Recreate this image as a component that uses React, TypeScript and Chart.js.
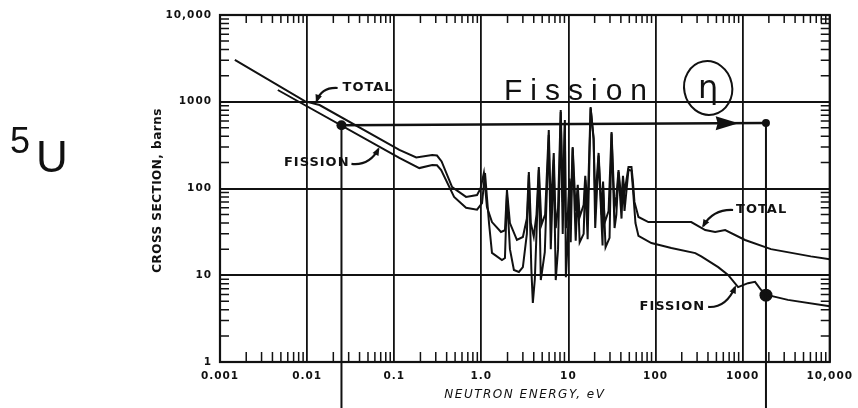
import React, { useEffect, useRef } from "react";
import { Chart, registerables } from "chart.js";

Chart.register(...registerables);

// ---- axes ----
const xTickValues = [0.001, 0.01, 0.1, 1, 10, 100, 1000, 10000];
const xTickLabels = ["0.001", "0.01", "0.1", "1.0", "10", "100", "1000", "10,000"];
const yTickValues = [1, 10, 100, 1000, 10000];
const yTickLabels = ["1", "10", "100", "1000", "10,000"];
const minorSteps = [2, 3, 4, 5, 6, 7, 8, 9];
const xTitle = "NEUTRON ENERGY, eV";
const yTitle = "CROSS SECTION, barns";

// ---- series: TOTAL ----
const totalEnergy = [0.00148, 0.0095, 0.0139, 0.1145, 0.179, 0.273, 0.31, 0.35, 0.462, 0.668, 0.893, 0.98, 1.07, 1.16, 1.326, 1.681, 1.868, 1.969, 2.13, 2.561, 3.0, 3.333, 3.513, 3.703, 4.0, 4.3, 4.572, 4.9, 5.4, 5.95, 6.271, 6.785, 7.15, 7.6, 8.16, 8.6, 9.1, 9.35, 9.9, 10.25, 10.62, 11.19, 12.12, 12.8, 13.46, 14.96, 15.6, 16.62, 17.98, 19.46, 20.3, 22.2, 24.03, 25.0, 26.0, 28.89, 31.27, 33.85, 35.5, 37.6, 40.69, 42.3, 44.04, 48.93, 52.94, 55.0, 57.3, 63.68, 82.8, 182.5, 257, 372, 484, 630, 1066, 2114, 6062, 10000];
const totalSigma = [3030, 1010, 917, 278, 228, 243, 240, 205, 104, 80, 84, 100, 151, 61, 41, 31.5, 33, 96, 40, 25.5, 27.6, 45, 155, 40, 28, 50, 177, 38, 50, 473, 55, 257, 35, 60, 803, 70, 616, 35, 55, 130, 60, 301, 55, 110, 47, 65, 140, 60, 870, 382, 70, 257, 50, 120, 40, 55, 448, 60, 80, 163, 70, 140, 90, 177, 177, 120, 70, 47, 41, 41, 41, 33.2, 31.5, 33.2, 25.5, 20, 16.5, 15.3];

// ---- series: FISSION ----
const fissionEnergy = [0.00461, 0.1145, 0.194, 0.273, 0.31, 0.346, 0.487, 0.668, 0.893, 1.019, 1.103, 1.225, 1.326, 1.726, 1.868, 1.969, 2.13, 2.367, 2.7, 3.0, 3.333, 3.513, 3.75, 3.904, 4.115, 4.572, 4.819, 5.355, 5.95, 6.271, 6.785, 7.152, 7.6, 8.16, 8.6, 9.1, 9.35, 9.812, 10.25, 10.62, 11.19, 12.12, 12.8, 13.46, 14.96, 15.6, 16.62, 17.98, 19.46, 20.3, 22.2, 24.66, 25.0, 26.69, 29.66, 31.27, 33.85, 35.5, 37.6, 40.69, 42.3, 44.04, 48.93, 52.94, 55.0, 58.84, 63.68, 89.6, 151.8, 286, 335, 524, 681, 887, 1153, 1388, 1624, 1953, 3307, 10000];
const fissionSigma = [1366, 225, 172, 187, 185, 163, 80, 60, 57, 68, 151, 40, 18.1, 15.0, 15.8, 84, 20, 11.5, 10.9, 12.4, 30, 143, 12, 4.8, 9, 163, 8.8, 18.5, 414, 20, 213, 8.8, 20, 762, 30, 560, 9.5, 25, 115, 24, 290, 25, 95, 24, 30, 125, 26, 840, 370, 35, 240, 22, 105, 21, 27, 430, 35, 50, 155, 45, 125, 55, 165, 160, 100, 40, 28.4, 23.5, 20.6, 18, 16.5, 12.4, 10.1, 7.3, 8.1, 8.4, 6.8, 5.9, 5.2, 4.4];

// ---- hand-drawn marks (data space) ----
const markEnergy = [0.0248, 1853, 1853];
const markSigma = [535, 569, 5.9];
const markRadius = [5, 4, 6.5];
const dropSigma = 0.29;
const arrowTip = { x: 900, y: 566 };

// ---- labels with leaders (data space) ----
const curveLabels = [
  { text: "TOTAL", x: 0.0255, y: 1440, align: "left", from: [0.0224, 1440], ctrl: [0.01467, 1479], to: [0.01287, 1020] },
  { text: "FISSION", x: 0.0307, y: 197, align: "right", from: [0.0323, 192], ctrl: [0.0519, 182], to: [0.0659, 285] },
  { text: "TOTAL", x: 841, y: 56.5, align: "left", from: [777, 56.5], ctrl: [459, 57.9], to: [353, 37] },
  { text: "FISSION", x: 372, y: 4.31, align: "right", from: [402, 4.31], ctrl: [646, 4.19], to: [819, 7.3] },
];
const noteText = "Fission";
const noteAnchor = { x: 1.82, y: 1047 };
const etaText = "η";
const etaAnchor = { x: 402, y: 1440 };
const marginNote = ["5", "U"];

const ink = "#111";

const toXY = (xs: number[], ys: number[]) => xs.map((x, i) => ({ x, y: ys[i] }));

const overlay = {
  id: "overlay",
  beforeDraw(chart: any) {
    chart.ctx.letterSpacing = "1px";
  },
  beforeDatasetsDraw(chart: any) {
    chart.ctx.letterSpacing = "0px";
  },
  afterDraw(chart: any) {
    const { ctx, chartArea: a, scales } = chart;
    const X = (v: number) => scales.x.getPixelForValue(v);
    const Y = (v: number) => scales.y.getPixelForValue(v);
    ctx.save();
    ctx.strokeStyle = ink;
    ctx.fillStyle = ink;
    ctx.lineCap = "butt";

    // minor ticks inside the frame
    ctx.lineWidth = 1.5;
    for (let i = 0; i < xTickValues.length - 1; i++) {
      for (const m of minorSteps) {
        const px = X(xTickValues[i] * m);
        ctx.beginPath();
        ctx.moveTo(px, a.bottom);
        ctx.lineTo(px, a.bottom - 10);
        ctx.moveTo(px, a.top);
        ctx.lineTo(px, a.top + 8);
        ctx.stroke();
      }
    }
    for (let i = 0; i < yTickValues.length - 1; i++) {
      for (const m of minorSteps) {
        const py = Y(yTickValues[i] * m);
        ctx.beginPath();
        ctx.moveTo(a.left, py);
        ctx.lineTo(a.left + 9, py);
        ctx.moveTo(a.right, py);
        ctx.lineTo(a.right - 9, py);
        ctx.stroke();
      }
    }

    // frame
    ctx.lineWidth = 2.2;
    ctx.strokeRect(a.left, a.top, a.right - a.left, a.bottom - a.top);

    // arrow head on the horizontal line
    const tx = X(arrowTip.x);
    const ty = Y(arrowTip.y);
    ctx.beginPath();
    ctx.moveTo(tx, ty);
    ctx.lineTo(tx - 23, ty - 7);
    ctx.lineTo(tx - 21, ty);
    ctx.lineTo(tx - 23, ty + 7);
    ctx.closePath();
    ctx.fill();

    // curve labels + leaders
    ctx.font = "bold 13px 'DejaVu Sans'";
    ctx.textBaseline = "middle";
    for (const l of curveLabels) {
      ctx.letterSpacing = "1px";
      ctx.textAlign = l.align as CanvasTextAlign;
      ctx.fillText(l.text, X(l.x), Y(l.y));
      ctx.letterSpacing = "0px";
      const fx = X(l.from[0]), fy = Y(l.from[1]);
      const cx = X(l.ctrl[0]), cy = Y(l.ctrl[1]);
      const ex = X(l.to[0]), ey = Y(l.to[1]);
      ctx.lineWidth = 2.2;
      ctx.beginPath();
      ctx.moveTo(fx, fy);
      ctx.quadraticCurveTo(cx, cy, ex, ey);
      ctx.stroke();
      const ang = Math.atan2(ey - cy, ex - cx);
      ctx.beginPath();
      ctx.moveTo(ex + Math.cos(ang) * 2, ey + Math.sin(ang) * 2);
      ctx.lineTo(ex - Math.cos(ang - 0.5) * 7, ey - Math.sin(ang - 0.5) * 7);
      ctx.lineTo(ex - Math.cos(ang + 0.5) * 7, ey - Math.sin(ang + 0.5) * 7);
      ctx.closePath();
      ctx.fill();
    }

    // axis titles
    ctx.textAlign = "center";
    ctx.letterSpacing = "1.5px";
    ctx.font = "italic 12px 'DejaVu Sans'";
    ctx.fillText(xTitle, (a.left + a.right) / 2, a.bottom + 33);
    ctx.save();
    ctx.translate(a.left - 62, (a.top + a.bottom) / 2 + 2);
    ctx.rotate(-Math.PI / 2);
    ctx.letterSpacing = "0.5px";
    ctx.font = "bold 12px 'DejaVu Sans'";
    ctx.fillText(yTitle, 0, 0);
    ctx.restore();

    // handwritten note
    ctx.textAlign = "left";
    ctx.textBaseline = "alphabetic";
    ctx.letterSpacing = "8px";
    ctx.font = "30px 'Liberation Sans'";
    ctx.fillText(noteText, X(noteAnchor.x), Y(noteAnchor.y));
    ctx.letterSpacing = "0px";
    const ex0 = X(etaAnchor.x), ey0 = Y(etaAnchor.y);
    ctx.lineWidth = 2;
    ctx.beginPath();
    ctx.ellipse(ex0, ey0, 24, 27, -0.2, 0, Math.PI * 2);
    ctx.stroke();
    ctx.textAlign = "center";
    ctx.textBaseline = "middle";
    ctx.font = "32px 'DejaVu Sans'";
    ctx.fillText(etaText, ex0, ey0 + 2);

    // margin note "5U"
    ctx.textAlign = "left";
    ctx.textBaseline = "alphabetic";
    ctx.font = "36px 'Liberation Sans'";
    ctx.fillText(marginNote[0], a.left - 210, 153);
    ctx.font = "44px 'Liberation Sans'";
    ctx.fillText(marginNote[1], a.left - 184, 172);

    ctx.restore();
  },
};

export default function App() {
  const ref = useRef<HTMLCanvasElement>(null);
  useEffect(() => {
    const lineOpts = { borderColor: ink, pointRadius: 0, fill: false, tension: 0 };
    const chart = new Chart(ref.current as HTMLCanvasElement, {
      type: "line",
      data: {
        datasets: [
          { ...lineOpts, label: "TOTAL", data: toXY(totalEnergy, totalSigma), borderWidth: 2 },
          { ...lineOpts, label: "FISSION", data: toXY(fissionEnergy, fissionSigma), borderWidth: 2 },
          { ...lineOpts, label: "arrow", data: toXY([markEnergy[0], markEnergy[1]], [markSigma[0], markSigma[1]]), borderWidth: 2.6 },
          { ...lineOpts, label: "thermal", data: toXY([markEnergy[0], markEnergy[0]], [markSigma[0], dropSigma]), borderWidth: 2, clip: false } as any,
          { ...lineOpts, label: "eta", data: toXY([markEnergy[1], markEnergy[1]], [markSigma[1], dropSigma]), borderWidth: 2, clip: false } as any,
          { label: "marks", data: toXY(markEnergy, markSigma), showLine: false, pointRadius: markRadius, backgroundColor: ink, borderColor: ink, borderWidth: 0, clip: false } as any,
        ],
      },
      options: {
        responsive: false,
        devicePixelRatio: 1,
        animation: false,
        layout: { padding: { top: 15, right: 26, left: 0, bottom: 0 } },
        plugins: { legend: { display: false }, tooltip: { enabled: false } },
        scales: {
          x: {
            type: "logarithmic",
            min: 0.001,
            max: 10000,
            afterBuildTicks: (s: any) => { s.ticks = xTickValues.map((v) => ({ value: v })); },
            afterFit: (s: any) => { s.height = 46; },
            grid: { color: ink, lineWidth: 1.8, drawTicks: false },
            border: { display: false },
            ticks: {
              autoSkip: false,
              maxRotation: 0,
              padding: 8,
              color: ink,
              font: { family: "DejaVu Sans", weight: "bold", size: 10.5 },
              callback: (_v: any, i: number) => xTickLabels[i],
            },
          },
          y: {
            type: "logarithmic",
            min: 1,
            max: 10000,
            afterBuildTicks: (s: any) => { s.ticks = yTickValues.map((v) => ({ value: v })); },
            afterFit: (s: any) => { s.width = 220; },
            grid: { color: ink, lineWidth: 2, drawTicks: false },
            border: { display: false },
            ticks: {
              padding: 8,
              color: ink,
              font: { family: "DejaVu Sans", weight: "bold", size: 10.5 },
              callback: (_v: any, i: number) => yTickLabels[i],
            },
          },
        },
      } as any,
      plugins: [overlay],
    });
    return () => chart.destroy();
  }, []);
  return (
    <div style={{ position: "absolute", left: 0, top: 0, width: 858, height: 408, background: "#fff" }}>
      <canvas ref={ref} width={858} height={408} style={{ display: "block" }} />
    </div>
  );
}
